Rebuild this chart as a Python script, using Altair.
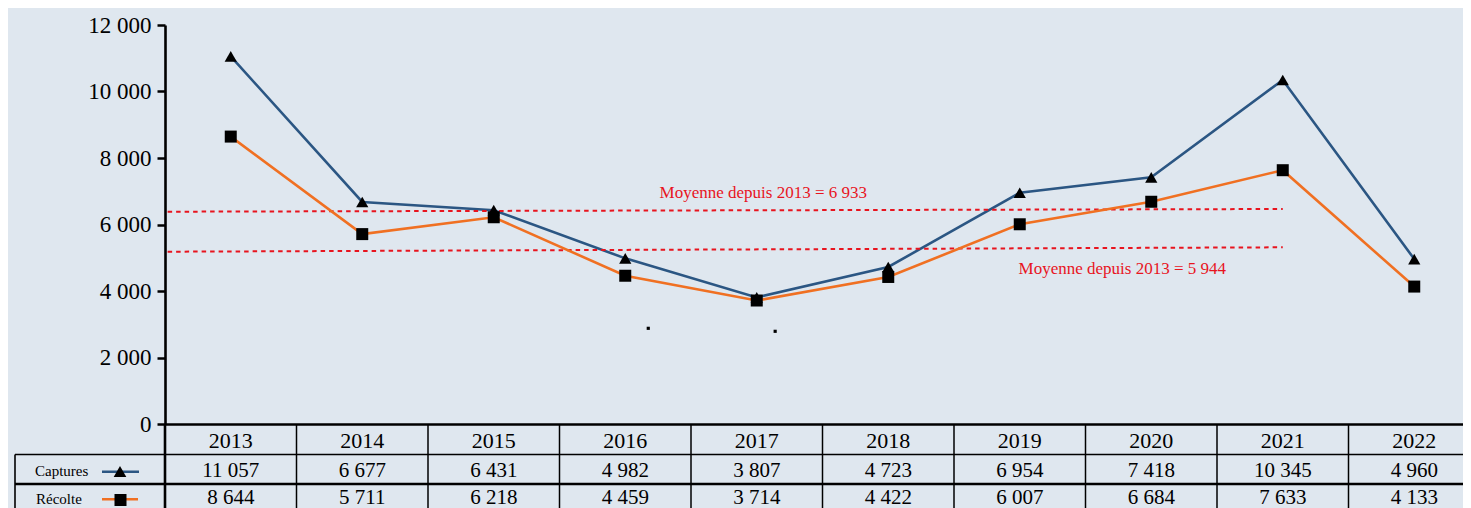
import altair as alt
import pandas as pd

# ---------------- data ----------------
years = [2013, 2014, 2015, 2016, 2017, 2018, 2019, 2020, 2021, 2022]
captures = [11057, 6677, 6431, 4982, 3807, 4723, 6954, 7418, 10345, 4960]
recolte = [8644, 5711, 6218, 4459, 3714, 4422, 6007, 6684, 7633, 4133]
y_ticks = [0, 2000, 4000, 6000, 8000, 10000, 12000]
row_names = ["Captures", "Récolte"]

mean_labels = ["Moyenne depuis 2013 = 6 933", "Moyenne depuis 2013 = 5 944"]
mean_x_start = [2012.52, 2012.52]
mean_x_end = [2021.0, 2021.0]
mean_y_start = [6385, 5182]
mean_y_end = [6466, 5314]
mean_label_x = [2017.05, 2019.78]
mean_label_y = [6788, 4511]

# two stray dots visible in the picture
stray_x = [2016.175, 2017.14]
stray_y = [2878, 2788]

# ---------------- layout / style ----------------
FONT = "Liberation Serif"
BG = "#dfe7ef"
BLUE = "#2b5683"
ORANGE = "#f07022"
RED = "#e8141e"
PLOT_W = 1298
PLOT_H = 399
COL_W = 131.5
X_MAX = 2012.5 + PLOT_W / COL_W


def fmt(v):
    return f"{v:,}".replace(",", " ")


df = pd.DataFrame({"year": years, "captures": captures, "recolte": recolte})
df["cap_txt"] = [fmt(v) for v in captures]
df["rec_txt"] = [fmt(v) for v in recolte]
df["year_txt"] = [str(y) for y in years]
df["left"] = [y - 0.5 for y in years]

mean_rows = []
for i in range(len(mean_labels)):
    mean_rows.append({"grp": i, "x": mean_x_start[i], "y": mean_y_start[i]})
    mean_rows.append({"grp": i, "x": mean_x_end[i], "y": mean_y_end[i]})
mean_df = pd.DataFrame(mean_rows)
mean_lab_df = pd.DataFrame({"x": mean_label_x, "y": mean_label_y, "t": mean_labels})
stray_df = pd.DataFrame({"x": stray_x, "y": stray_y})
one = pd.DataFrame({"k": [0]})

xs = alt.Scale(domain=[2012.5, X_MAX], nice=False, zero=False)
ys = alt.Scale(domain=[0, 12000], nice=False)

y_axis = alt.Axis(
    values=y_ticks, grid=False, title=None,
    labelExpr="replace(format(datum.value, ','), ',', ' ')",
    labelFont=FONT, labelFontSize=23, labelColor="black", labelPadding=6,
    tickColor="black", tickWidth=2.5, tickSize=8,
    domainColor="black", domainWidth=2.6,
)
x_axis = alt.Axis(labels=False, ticks=False, grid=False, title=None,
                  domainColor="black", domainWidth=2.7)


def X(field):
    return alt.X(field, scale=xs, axis=x_axis)


def Y(field):
    return alt.Y(field, scale=ys, axis=y_axis)


base = alt.Chart(df)

cap_line = base.mark_line(color=BLUE, strokeWidth=2.6).encode(
    x=X("year:Q"), y=Y("captures:Q"))
rec_line = base.mark_line(color=ORANGE, strokeWidth=2.6).encode(
    x=X("year:Q"), y=Y("recolte:Q"))
cap_pts = base.mark_point(shape="triangle-up", filled=True, color="black",
                          size=150, opacity=1).encode(
    x=X("year:Q"), y=Y("captures:Q"))
rec_pts = base.mark_point(shape="square", filled=True, color="black",
                          size=144, opacity=1).encode(
    x=X("year:Q"), y=Y("recolte:Q"))

mean_lines = alt.Chart(mean_df).mark_line(
    color=RED, strokeWidth=2, strokeDash=[4.5, 4]).encode(
    x=X("x:Q"), y=Y("y:Q"), detail="grp:N")
mean_text = alt.Chart(mean_lab_df).mark_text(
    font=FONT, fontSize=17, color=RED, align="center", baseline="alphabetic").encode(
    x=X("x:Q"), y=Y("y:Q"), text="t:N")
stray = alt.Chart(stray_df).mark_square(color="black", size=10, opacity=1).encode(
    x=X("x:Q"), y=Y("y:Q"))

# ---------------- table below the plot ----------------
col_lines = base.mark_rule(color="black", strokeWidth=1.5).encode(
    x=X("left:Q"), y=alt.value(PLOT_H), y2=alt.value(PLOT_H + 130))
left_thick = alt.Chart(one).mark_rule(color="black", strokeWidth=2.6).encode(
    x=alt.value(0), y=alt.value(PLOT_H), y2=alt.value(PLOT_H + 130))
far_left = alt.Chart(one).mark_rule(color="black", strokeWidth=1.6).encode(
    x=alt.value(-150), y=alt.value(429.5), y2=alt.value(PLOT_H + 130))
h1 = alt.Chart(one).mark_rule(color="black", strokeWidth=1.4).encode(
    x=alt.value(-150), x2=alt.value(PLOT_W + 10), y=alt.value(429.5))
h2 = alt.Chart(one).mark_rule(color="black", strokeWidth=2.4).encode(
    x=alt.value(-150), x2=alt.value(PLOT_W + 10), y=alt.value(459))

txt = dict(font=FONT, color="black", align="center", baseline="alphabetic")
hdr = base.mark_text(fontSize=22, **txt).encode(
    x=X("year:Q"), y=alt.value(423), text="year_txt:N")
cap_vals = base.mark_text(fontSize=21, **txt).encode(
    x=X("year:Q"), y=alt.value(452), text="cap_txt:N")
rec_vals = base.mark_text(fontSize=21, **txt).encode(
    x=X("year:Q"), y=alt.value(479), text="rec_txt:N")

lab_cap = alt.Chart(pd.DataFrame({"t": [row_names[0]]})).mark_text(
    font=FONT, fontSize=15, color="black", align="left", baseline="alphabetic").encode(
    x=alt.value(-130), y=alt.value(451), text="t:N")
lab_rec = alt.Chart(pd.DataFrame({"t": [row_names[1]]})).mark_text(
    font=FONT, fontSize=15, color="black", align="left", baseline="alphabetic").encode(
    x=alt.value(-129), y=alt.value(479), text="t:N")

leg_cap_line = alt.Chart(one).mark_rule(color=BLUE, strokeWidth=2.6).encode(
    x=alt.value(-63), x2=alt.value(-26), y=alt.value(446.7))
leg_cap_pt = alt.Chart(one).mark_point(shape="triangle-up", filled=True,
                                       color="black", size=160, opacity=1).encode(
    x=alt.value(-45), y=alt.value(446.5))
leg_rec_line = alt.Chart(one).mark_rule(color=ORANGE, strokeWidth=2.6).encode(
    x=alt.value(-63), x2=alt.value(-27), y=alt.value(474.3))
leg_rec_pt = alt.Chart(one).mark_point(shape="square", filled=True,
                                       color="black", size=144, opacity=1).encode(
    x=alt.value(-44.5), y=alt.value(475))

chart = alt.layer(
    cap_line, mean_lines, rec_line, cap_pts, rec_pts, mean_text, stray,
    col_lines, left_thick, far_left, h1, h2, hdr, cap_vals, rec_vals,
    lab_cap, lab_rec, leg_cap_line, leg_cap_pt, leg_rec_line, leg_rec_pt,
).properties(
    width=PLOT_W, height=PLOT_H,
    padding={"left": 157, "top": 17, "right": 0, "bottom": 84},
    autosize=alt.AutoSizeParams(type="none"),
    background=BG,
).configure_view(stroke=None)

chart.save("out.html", embed_options={"renderer": "svg", "actions": False})
